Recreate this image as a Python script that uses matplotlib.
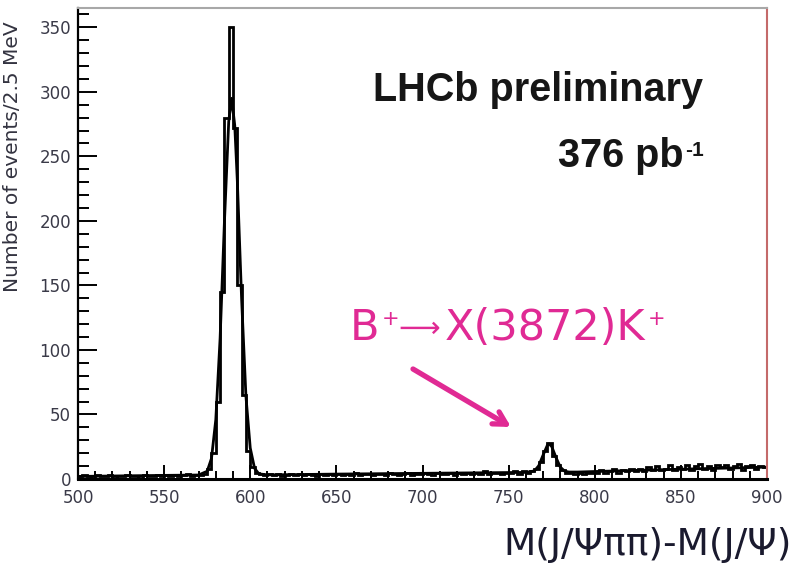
import numpy as np
import matplotlib.pyplot as plt
from matplotlib.ticker import MultipleLocator

W, H = 797, 563

# M(J/psi pi pi) - M(J/psi), 2.5 MeV bins from 500 to 900 MeV
mass_lo, mass_hi = 500.0, 900.0
counts = [
    2, 3, 2, 1, 3, 2, 2, 3, 1, 2,
    2, 3, 2, 2, 1, 3, 2, 2, 3, 2,
    3, 2, 3, 2, 3, 4, 2, 3, 3, 4,
    8, 20, 60, 145, 280, 350, 272, 150, 65, 22,
    9, 5, 4, 3, 4, 3, 4, 2, 3, 4,
    3, 4, 3, 4, 3, 2, 4, 3, 4, 3,
    4, 3, 4, 3, 5, 3, 4, 4, 3, 4,
    4, 3, 5, 4, 3, 4, 5, 3, 4, 4,
    5, 4, 3, 5, 4, 4, 5, 3, 5, 4,
    5, 4, 5, 4, 6, 4, 5, 5, 4, 5,
    5, 6, 4, 6, 5, 6, 8, 13, 22, 28,
    18, 11, 7, 5, 5, 4, 5, 4, 5, 5,
    5, 7, 5, 6, 8, 5, 7, 6, 8, 6,
    8, 6, 9, 7, 10, 7, 8, 11, 7, 9,
    8, 11, 7, 10, 12, 8, 10, 7, 11, 9,
    11, 8, 10, 12, 7, 10, 11, 8, 10, 9,
]

# fitted signal + background shape
fit_mass = [500, 525, 550, 565, 570, 575, 577.5, 580, 582.5, 585,
            587.5, 589.2, 591, 592.5, 595, 597.5, 600, 602.5, 605, 610,
            625, 650, 700, 750, 760, 765, 767.5, 770, 772.5, 773.5,
            775, 777.5, 780, 782.5, 785, 790, 800, 825, 850, 875, 900]
fit_vals = [2.0, 2.4, 2.8, 3.0, 3.1, 6, 16, 46, 109, 199,
            277, 295, 274, 231, 139, 64, 24, 8.3, 4, 3.2,
            3.4, 3.8, 4.4, 5.0, 5.1, 6.3, 10.3, 18.5, 26.2, 27.2,
            25.2, 16.7, 9.2, 6.1, 5.4, 5.4, 5.8, 6.7, 7.6, 8.4, 9.2]

x_ticks = [500, 550, 600, 650, 700, 750, 800, 850, 900]
y_ticks = [0, 50, 100, 150, 200, 250, 300, 350]

pink = '#e02a94'


def fig_xy(x, y):
    return x / W, 1 - y / H


fig = plt.figure(figsize=(W / 100, H / 100), dpi=100)
ax = fig.add_axes([78 / W, 1 - 479 / H, (767 - 78) / W, (479 - 8) / H])

edges = np.linspace(mass_lo, mass_hi, len(counts) + 1)
ax.stairs(counts, edges, color='black', lw=2.0, baseline=None)
ax.plot(fit_mass, fit_vals, color='black', lw=2.0)

ax.set_xlim(mass_lo, mass_hi)
ax.set_ylim(0, 365)
ax.set_xticks(x_ticks)
ax.set_yticks(y_ticks)
ax.xaxis.set_minor_locator(MultipleLocator(10))
ax.yaxis.set_minor_locator(MultipleLocator(10))
ax.tick_params(axis='both', which='both', direction='in', width=1.4,
               labelsize=12, colors='black')
ax.tick_params(axis='x', which='major', length=10, pad=7.5)
ax.tick_params(axis='x', which='minor', length=5.5)
ax.tick_params(axis='y', which='major', length=14, pad=5)
ax.tick_params(axis='y', which='minor', length=8)
ax.tick_params(axis='both', labelcolor='#3a3a48')

ax.spines['left'].set_linewidth(1.6)
ax.spines['bottom'].set_linewidth(2.2)
ax.spines['top'].set_color('#a8a8a8')
ax.spines['top'].set_linewidth(1.5)
ax.spines['right'].set_color('#c46a6a')
ax.spines['right'].set_linewidth(1.5)

ax.set_ylabel('Number of events/2.5 MeV', fontsize=14.5, color='#333340')
ax.yaxis.set_label_coords(-0.082, 0.685)

# labels on the slide
fig.text(*fig_xy(703, 101), 'LHCb preliminary', ha='right', va='baseline',
         fontsize=28.5, fontweight='bold', family='Liberation Sans', color='#161616')
fig.text(*fig_xy(684, 167), '376 pb', ha='right', va='baseline',
         fontsize=28.5, fontweight='bold', family='Liberation Sans', color='#161616')
fig.text(*fig_xy(685, 156), '-1', ha='left', va='baseline',
         fontsize=15, fontweight='bold', family='Liberation Sans', color='#161616')

fig.text(*fig_xy(350, 340), 'B', ha='left', va='baseline', fontsize=31, color=pink)
fig.text(*fig_xy(382, 325), '+', ha='left', va='baseline', fontsize=15, color=pink)
fig.text(*fig_xy(398, 337), '\u27f6', ha='left', va='baseline', fontsize=21, color=pink)
fig.text(*fig_xy(445, 340), 'X(3872)K', ha='left', va='baseline', fontsize=31, color=pink)
fig.text(*fig_xy(648, 325), '+', ha='left', va='baseline', fontsize=15, color=pink)

ax.annotate('', xy=fig_xy(511, 427), xytext=fig_xy(413, 369),
            xycoords='figure fraction', textcoords='figure fraction',
            arrowprops=dict(arrowstyle='->,head_length=0.9,head_width=0.5',
                            color=pink, lw=3.8, shrinkA=0, shrinkB=0))

fig.text(*fig_xy(503, 555), 'M(J/\u03a8\u03c0\u03c0)-M(J/\u03a8)', ha='left', va='baseline',
         fontsize=27, color='#1a1a2e')

fig.savefig('out.png', dpi=100)
